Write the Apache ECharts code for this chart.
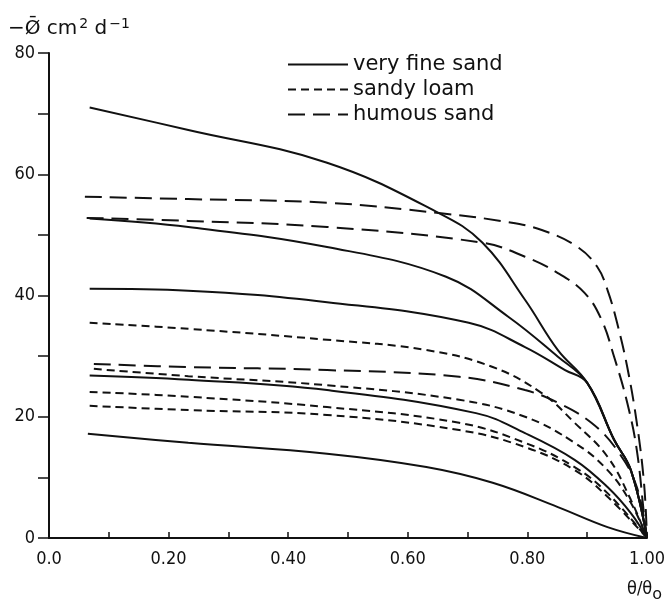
<!DOCTYPE html>
<html><head><meta charset="utf-8">
<script src="https://cdn.jsdelivr.net/npm/echarts@6/dist/echarts.min.js"></script>
<style>html,body{margin:0;padding:0;background:#fff}#c{width:668px;height:604px}</style>
</head><body><div id="c"></div>
<script>
// tick labels
const xTickLabels = ['0.0', '0.20', '0.40', '0.60', '0.80', '1.00'];
const yTickLabels = ['0', '20', '40', '60', '80'];
const seriesNames = ['very fine sand', 'sandy loam', 'humous sand'];

// very fine sand (solid)
const vfs1 = [[0.068,71.0],[0.233,67.3],[0.465,61.9],[0.652,53.6],[0.725,48.7],[0.796,39.3],[0.851,31.0],[0.90,25.6],[0.945,16.2],[0.973,11.2],[1.0,0]];
const vfs2 = [[0.068,52.7],[0.233,51.3],[0.465,48.0],[0.664,43.1],[0.768,36.5],[0.851,29.9],[0.90,25.6],[0.945,16.2],[0.973,11.2],[1.0,0]];
const vfs3 = [[0.068,41.1],[0.233,40.8],[0.465,38.9],[0.702,35.5],[0.796,31.5],[0.863,27.7],[0.90,25.6],[0.945,16.2],[0.973,11.2],[1.0,0]];
const vfs4 = [[0.068,26.8],[0.233,26.1],[0.465,24.4],[0.714,20.6],[0.796,17.3],[0.879,12.9],[0.934,8.4],[0.973,4.1],[1.0,0]];
const vfs5 = [[0.065,17.2],[0.233,15.7],[0.465,13.9],[0.631,11.7],[0.742,9.1],[0.851,5.1],[0.934,1.8],[1.0,0]];

// sandy loam (short dash)
const sl1 = [[0.068,35.5],[0.233,34.5],[0.465,32.7],[0.631,31.0],[0.742,28.2],[0.824,23.9],[0.879,19.0],[0.934,13.4],[0.973,6.3],[1.0,0]];
const sl2 = [[0.075,27.9],[0.233,26.7],[0.465,25.2],[0.686,22.8],[0.796,20.0],[0.879,15.7],[0.934,11.2],[0.973,5.8],[1.0,0]];
const sl3 = [[0.068,24.1],[0.233,23.3],[0.465,21.6],[0.686,19.0],[0.796,15.7],[0.879,11.7],[0.934,7.4],[1.0,0]];
const sl4 = [[0.068,21.8],[0.233,21.1],[0.465,20.3],[0.686,17.8],[0.796,15.0],[0.879,11.2],[0.934,6.8],[1.0,0]];

// humous sand (long dash)
const hs1 = [[0.060,56.3],[0.233,55.9],[0.465,55.3],[0.652,53.6],[0.768,52.1],[0.824,50.8],[0.884,48.0],[0.917,44.7],[0.934,40.9],[0.950,35.5],[0.967,28.2],[0.983,19.0],[0.995,9.1],[1.0,0]];
const hs2 = [[0.063,52.8],[0.233,52.3],[0.465,51.3],[0.725,48.7],[0.796,46.4],[0.851,43.7],[0.896,40.4],[0.924,36.0],[0.945,29.9],[0.967,22.3],[0.983,14.5],[0.996,3.0],[1.0,0]];
const hs3 = [[0.075,28.7],[0.233,28.2],[0.465,27.7],[0.686,26.6],[0.796,24.4],[0.851,22.3],[0.907,19.0],[0.950,14.5],[0.983,8.4],[1.0,0]];

const groups = [
  { name: seriesNames[0], curves: [vfs1, vfs2, vfs3, vfs4, vfs5], type: 'solid' },
  { name: seriesNames[1], curves: [sl1, sl2, sl3, sl4], type: [8, 5] },
  { name: seriesNames[2], curves: [hs1, hs2, hs3], type: [17, 8] }
];

const series = [];
groups.forEach(g => {
  g.curves.forEach(c => {
    series.push({
      name: g.name, type: 'line', data: c, showSymbol: false, symbol: 'none', symbolSize: 0,
      smooth: 0.4,
      itemStyle: { color: '#111' },
      lineStyle: { color: '#111', width: 2, type: g.type },
      emphasis: { disabled: true }, silent: true, animation: false
    });
  });
});

const font = 'DejaVu Sans';
const tickFont = 'DejaVu Sans Condensed';
const chart = echarts.init(document.getElementById('c'));
chart.setOption({
  animation: false,
  backgroundColor: '#fff',
  title: [
    { text: '{a|−Ø̄ cm}{s|2}{a| d}{s|−1}', left: 3, top: 12,
      textStyle: { rich: {
        a: { fontFamily: font, fontSize: 20, fontWeight: 'normal', color: '#111' },
        s: { fontFamily: font, fontSize: 14, fontWeight: 'normal', color: '#111', verticalAlign: 'top', padding: [0, 0, 10, 2] } } } },
    { text: '{a|θ/θ}{b|o}', left: 622, top: 570,
      textStyle: { rich: {
        a: { fontFamily: tickFont, fontSize: 18, fontWeight: 'normal', color: '#111' },
        b: { fontFamily: font, fontSize: 16, fontWeight: 'normal', color: '#111', padding: [12, 0, 0, 0] } } } }
  ],
  legend: {
    data: seriesNames, orient: 'vertical', left: 282, top: 49,
    itemWidth: 60, itemHeight: 12, itemGap: 4,
    itemStyle: { opacity: 0 },
    textStyle: { fontFamily: font, fontSize: 21, color: '#111', lineHeight: 21 },
    selectedMode: false
  },
  grid: { left: 49, right: 15, top: 53, bottom: 66, containLabel: false },
  xAxis: {
    type: 'value', min: 0, max: 1, interval: 0.1,
    axisLine: { show: true, onZero: false, lineStyle: { color: '#111', width: 2 } },
    axisTick: { show: true, inside: true, length: 6, lineStyle: { color: '#111', width: 1.5 } },
    splitLine: { show: false },
    axisLabel: {
      fontFamily: tickFont, fontSize: 18, color: '#111', margin: 12,
      formatter: v => { const i = Math.round(v * 10); return i % 2 === 0 ? xTickLabels[i / 2] : ''; }
    }
  },
  yAxis: {
    type: 'value', min: 0, max: 80, interval: 10,
    axisLine: { show: true, onZero: false, lineStyle: { color: '#111', width: 2 } },
    axisTick: { show: true, inside: false, length: 11, lineStyle: { color: '#111', width: 1.5 } },
    splitLine: { show: false },
    axisLabel: {
      fontFamily: tickFont, fontSize: 18, color: '#111', margin: 14,
      formatter: v => { const i = Math.round(v / 10); return i % 2 === 0 ? yTickLabels[i / 2] : ''; }
    }
  },
  series: series
});
</script></body></html>
